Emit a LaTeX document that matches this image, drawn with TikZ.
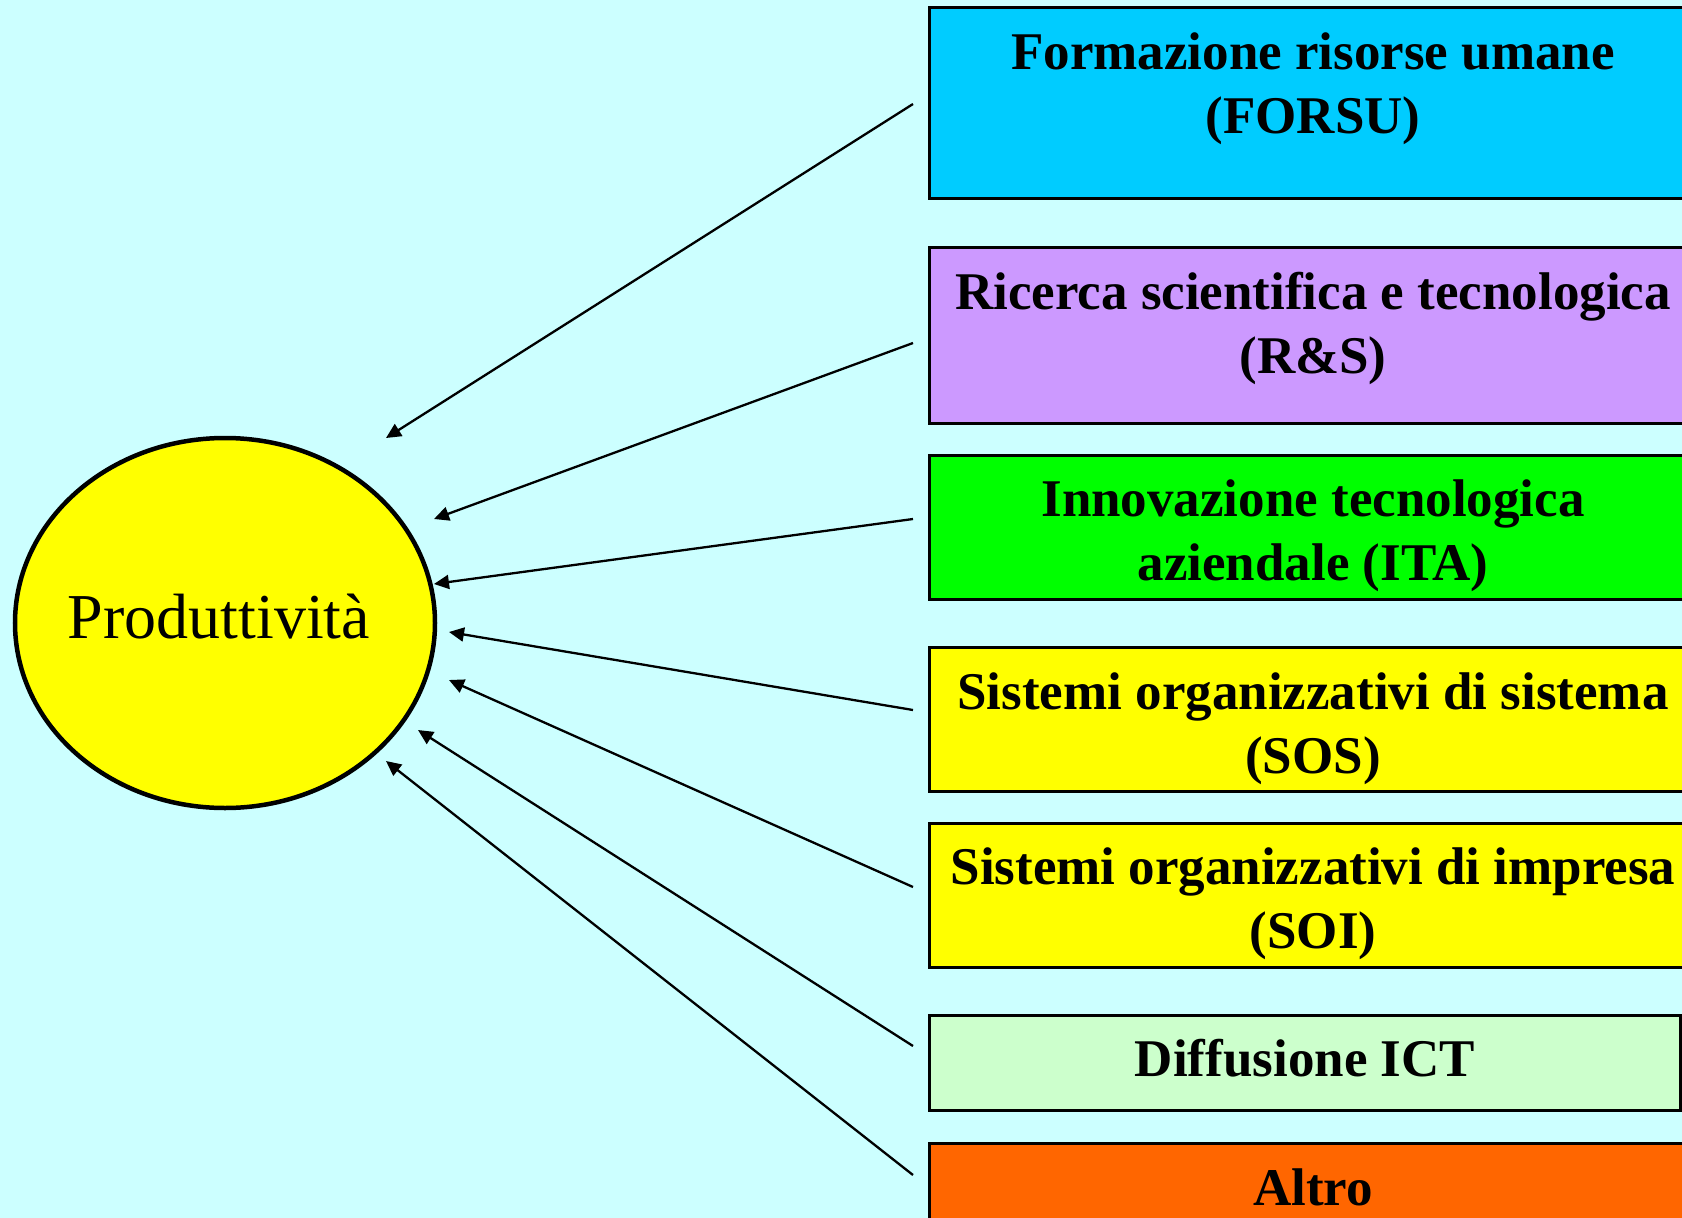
\documentclass[tikz,border=0pt]{standalone}
\usepackage{fontspec}
\setmainfont{Liberation Serif}
\usetikzlibrary{arrows.meta}
\definecolor{bgc}{HTML}{CCFFFF}
\definecolor{cyanbox}{HTML}{00CCFF}
\definecolor{lilac}{HTML}{CC99FF}
\definecolor{greenbox}{HTML}{00FF00}
\definecolor{yellowbox}{HTML}{FFFF00}
\definecolor{palegreen}{HTML}{CCFFCC}
\definecolor{orangebox}{HTML}{FF6600}
\begin{document}
\begin{tikzpicture}[x=1pt,y=-1pt,
  factorbox/.style={draw=black, line width=3pt, rectangle, inner sep=0pt},
  boxtext/.style={font=\fontsize{53}{64}\selectfont\bfseries, align=center, anchor=base, inner sep=0pt},
  conn/.style={line width=2.3pt, -{Triangle[length=15pt,width=14pt]}}
]
\useasboundingbox (0,0) rectangle (1682,1218);
\clip (0,0) rectangle (1682,1218);
\fill[bgc] (0,0) rectangle (1682,1218);

% central ellipse
\draw[line width=4.5pt, fill=yellowbox] (225,623) ellipse [x radius=210, y radius=185];
\node[font=\fontsize{64}{72}\selectfont, anchor=base, inner sep=0pt] (prod) at (219,638) {Produttività};

% boxes
\path[factorbox, fill=cyanbox]   (929,7)    rectangle (1705,198)  coordinate (b1);
\path[factorbox, fill=lilac]     (929,247)  rectangle (1705,423)  coordinate (b2);
\path[factorbox, fill=greenbox]  (929,455)  rectangle (1705,599)  coordinate (b3);
\path[factorbox, fill=yellowbox] (929,647)  rectangle (1705,791)  coordinate (b4);
\path[factorbox, fill=yellowbox] (929,823)  rectangle (1705,967)  coordinate (b5);
\path[factorbox, fill=palegreen] (929,1015) rectangle (1680,1110) coordinate (b6);
\path[factorbox, fill=orangebox] (929,1143) rectangle (1705,1300) coordinate (b7);

% box texts (base anchor = baseline of last line)
\node[boxtext] (t1) at (1313,133)  {Formazione risorse umane\\(FORSU)};
\node[boxtext] (t2) at (1313,373)  {Ricerca scientifica e tecnologica\\(R\&S)};
\node[boxtext] (t3) at (1313,580)  {Innovazione tecnologica\\aziendale (ITA)};
\node[boxtext] (t4) at (1313,773)  {Sistemi organizzativi di sistema\\(SOS)};
\node[boxtext] (t5) at (1313,948)  {Sistemi organizzativi di impresa\\(SOI)};
\node[boxtext] (t6) at (1305,1076) {Diffusione ICT};
\node[boxtext] (t7) at (1313,1205) {Altro};

% connector ends
\coordinate (s1) at (913,104);  \coordinate (e1) at (386,438);
\coordinate (s2) at (913,343);  \coordinate (e2) at (434,519);
\coordinate (s3) at (913,519);  \coordinate (e3) at (434,584);
\coordinate (s4) at (913,710);  \coordinate (e4) at (449,632);
\coordinate (s5) at (913,887);  \coordinate (e5) at (449,680);
\coordinate (s6) at (913,1046); \coordinate (e6) at (418,730);
\coordinate (s7) at (913,1175); \coordinate (e7) at (386,761);

\foreach \i in {1,...,7} {\draw[conn] (s\i) -- (e\i);}
\end{tikzpicture}
\end{document}
